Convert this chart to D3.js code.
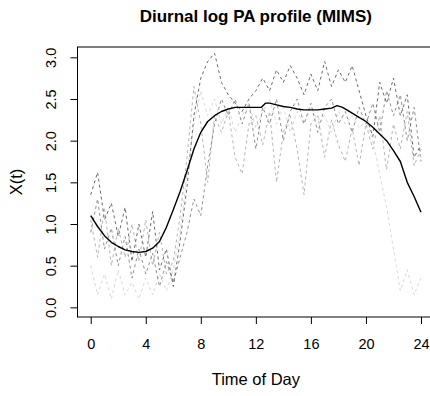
<!DOCTYPE html>
<html>
<head>
<meta charset="utf-8">
<script src="https://cdn.jsdelivr.net/npm/d3@7"></script>
<style>
  html, body { margin: 0; padding: 0; background: #fff; }
  svg { display: block; }
  text { font-family: "Liberation Sans", Arial, Helvetica, sans-serif; }
</style>
</head>
<body>
<svg id="chart" width="430" height="396"></svg>
<script>
// ---- data ----
const chartTitle = "Diurnal log PA profile (MIMS)";
const xLabel = "Time of Day";
const yLabel = "X(t)";
const xTicks = [0, 4, 8, 12, 16, 20, 24];
const yTicks = [0.0, 0.5, 1.0, 1.5, 2.0, 2.5, 3.0];

// individual profiles, half-hour grid 0..24
const hours = [0,0.5,1,1.5,2,2.5,3,3.5,4,4.5,5,5.5,6,6.5,7,7.5,8,8.5,9,9.5,10,10.5,11,11.5,12,12.5,13,13.5,14,14.5,15,15.5,16,16.5,17,17.5,18,18.5,19,19.5,20,20.5,21,21.5,22,22.5,23,23.5,24];
const subject1 = [1.35,1.62,1.05,1.25,0.85,1.20,0.55,1.00,0.60,1.15,0.45,0.70,0.25,0.80,1.45,2.30,2.75,2.95,3.05,2.70,2.55,2.45,2.35,2.50,2.60,2.75,2.60,2.85,2.70,2.90,2.75,2.55,2.80,2.60,2.95,2.65,2.85,2.70,2.90,2.60,2.30,2.05,2.70,2.45,2.75,2.30,2.55,1.80,1.95];
const subject2 = [0.90,1.30,0.70,0.95,0.50,0.85,0.35,0.70,0.40,0.65,0.25,0.55,0.30,0.60,0.90,1.30,1.10,1.70,2.20,2.50,2.30,2.50,2.20,2.45,1.90,2.40,2.20,2.50,2.00,2.35,2.50,2.20,2.45,2.10,2.40,2.50,2.20,2.35,2.10,2.40,2.20,2.45,2.10,2.60,2.30,2.55,2.00,2.40,1.75];
const subject3 = [1.05,0.60,1.20,0.50,0.95,0.60,1.00,0.55,1.05,0.50,0.90,0.40,0.55,1.10,1.80,2.65,2.20,1.50,2.30,2.10,2.35,1.80,1.60,2.20,2.30,1.95,2.35,1.50,2.10,2.30,1.90,1.35,2.20,2.30,1.80,2.25,1.95,1.75,2.15,1.70,2.20,1.90,2.30,1.65,2.20,1.90,2.35,1.70,1.90];
const subject4 = [0.50,0.15,0.40,0.10,0.45,0.15,0.30,0.10,0.35,0.15,0.40,0.20,0.45,0.90,1.60,2.20,2.60,2.30,2.50,2.20,2.40,2.10,2.30,2.45,2.15,2.35,2.50,2.20,2.40,2.10,2.35,2.20,2.40,2.25,2.30,2.10,2.35,2.20,2.30,2.15,2.25,2.00,1.60,1.20,0.70,0.20,0.45,0.15,0.35];
const subjectColors = ["#6a6a6a", "#8f8f8f", "#b5b5b5", "#d8d8d8"];

// smoothed mean profile
const meanHours = [0,0.5,1,1.5,2,2.5,3,3.5,4,4.5,5,5.5,6,6.5,7,7.5,8,8.5,9,9.5,10,10.5,11,11.5,12,12.4,12.7,13,13.5,14,14.5,15,15.5,16,16.5,17,17.5,17.9,18.3,18.7,19,19.5,20,20.5,21,21.5,22,22.5,23,23.5,24];
const meanValues = [1.10,0.97,0.86,0.78,0.73,0.69,0.67,0.66,0.67,0.71,0.79,0.96,1.17,1.39,1.64,1.90,2.10,2.23,2.30,2.35,2.38,2.40,2.40,2.40,2.40,2.40,2.45,2.45,2.43,2.41,2.40,2.38,2.37,2.37,2.37,2.38,2.39,2.42,2.40,2.36,2.33,2.28,2.23,2.16,2.08,2.00,1.88,1.75,1.50,1.33,1.14];

// ---- chart ----
const svg = d3.select("#chart");
const plotL = 77.5, plotR = 434.2, plotT = 47, plotB = 317;

const x = d3.scaleLinear().domain([-0.96, 24.96]).range([plotL, plotR]);
const y = d3.scaleLinear().domain([-0.116, 3.124]).range([plotB, plotT]);

const line = d3.line().x(d => x(d[0])).y(d => y(d[1]));

const subjects = [subject1, subject2, subject3, subject4];
[3, 2, 1, 0].forEach(i => {
  svg.append("path")
    .datum(hours.map((h, j) => [h, subjects[i][j]]))
    .attr("d", line)
    .attr("fill", "none")
    .attr("stroke", subjectColors[i])
    .attr("stroke-width", 1)
    .attr("stroke-dasharray", "3,3");
});

svg.append("path")
  .datum(meanHours.map((h, j) => [h, meanValues[j]]))
  .attr("d", line)
  .attr("fill", "none")
  .attr("stroke", "#000")
  .attr("stroke-width", 1.4)
  .attr("stroke-linejoin", "round");

// box
svg.append("rect")
  .attr("x", plotL).attr("y", plotT)
  .attr("width", plotR - plotL).attr("height", plotB - plotT)
  .attr("fill", "none").attr("stroke", "#000").attr("stroke-width", 1);

// x axis
const xAxis = svg.append("g")
  .attr("transform", `translate(0,${plotB})`)
  .call(d3.axisBottom(x).tickValues(xTicks).tickSize(7).tickPadding(15).tickFormat(d3.format("d")));
xAxis.select(".domain").remove();
xAxis.selectAll("line").attr("stroke", "#000");
xAxis.selectAll("text").attr("font-size", 14.5).attr("fill", "#000")
  .attr("font-family", "Liberation Sans, Arial, sans-serif");

// y axis
const yAxis = svg.append("g")
  .attr("transform", `translate(${plotL},0)`)
  .call(d3.axisLeft(y).tickValues(yTicks).tickSize(7).tickFormat(d3.format(".1f")));
yAxis.select(".domain").remove();
yAxis.selectAll("line").attr("stroke", "#000");
yAxis.selectAll("text")
  .attr("font-size", 14.5).attr("fill", "#000")
  .attr("font-family", "Liberation Sans, Arial, sans-serif")
  .attr("text-anchor", "middle")
  .attr("dy", null)
  .attr("x", null)
  .attr("transform", "translate(-27,0) rotate(-90)")
  .attr("dominant-baseline", "central");

// titles
svg.append("text")
  .attr("x", (plotL + plotR) / 2).attr("y", 22)
  .attr("text-anchor", "middle")
  .attr("font-size", 17).attr("font-weight", "bold")
  .text(chartTitle);

svg.append("text")
  .attr("x", (plotL + plotR) / 2).attr("y", 385)
  .attr("text-anchor", "middle")
  .attr("font-size", 16.5)
  .text(xLabel);

svg.append("text")
  .attr("transform", `translate(22,${(plotT + plotB) / 2}) rotate(-90)`)
  .attr("text-anchor", "middle")
  .attr("font-size", 16.5)
  .text(yLabel);
</script>
</body>
</html>
